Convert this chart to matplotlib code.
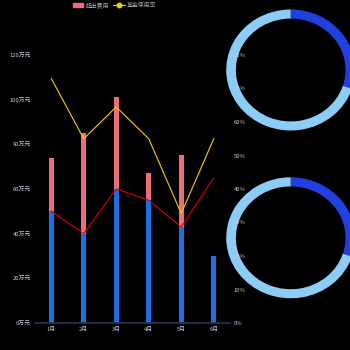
import matplotlib
matplotlib.use("Agg")
import matplotlib.pyplot as plt
from matplotlib.patches import Rectangle
from matplotlib.lines import Line2D

plt.rcParams['font.family'] = ['Noto Sans CJK SC', 'DejaVu Sans']

months = ["1月", "2月", "3月", "4月", "5月", "6月"]
used = [50, 40, 60, 55, 43, 30]          # 万元 (blue)
excess = [24, 45, 41, 12, 32, 0]          # 超出费用 (pink, stacked)
red_line = [50, 40, 60, 55, 43, 65]       # 万元
usage_rate = [73, 55, 64.5, 55, 32.7, 55] # 基金使用率 %
left_ticks = [0, 20, 40, 60, 80, 100, 120]
right_ticks = [0, 10, 20, 30, 40, 50, 60, 70, 80]
donut1 = [30, 70]
donut2 = [30, 70]

W = H = 350
fig = plt.figure(figsize=(3.5, 3.5), dpi=100, facecolor="black")

def fx(x): return x / W
def fy(y): return 1 - y / H

ax = fig.add_axes([fx(35), fy(323), fx(230) - fx(35), fy(55) - fy(323)])
ax.set_facecolor("black")
ax.set_zorder(1)
x = list(range(len(months)))
bw = 0.155
ax.bar(x, used, width=bw, color="#1a6fe6", zorder=2)
ax.bar(x, excess, width=bw, bottom=used, color="#f26b7c", zorder=2)
ax.plot(x, red_line, color="#e00000", lw=0.8, zorder=3)
ax.set_xlim(-0.5, 5.5)
ax.set_ylim(0, 120)
ax.set_yticks(left_ticks)
ax.set_yticklabels([f"{v}万元" for v in left_ticks])
ax.set_xticks(x)
ax.set_xticklabels(months)
lbl = "#c4c8da"
ax.tick_params(axis="y", length=0, pad=3, labelsize=4.2, labelcolor=lbl)
ax.tick_params(axis="x", length=0, pad=3, labelsize=4.2, labelcolor=lbl)
for s in ["top", "right", "left"]:
    ax.spines[s].set_visible(False)
ax.spines["bottom"].set_color("#2a3050")
ax.spines["bottom"].set_linewidth(1.2)

ax2 = ax.twinx()
ax2.set_zorder(3)
ax2.patch.set_visible(False)
ax2.plot(x, usage_rate, color="#f5d000", lw=0.8, zorder=3)
ax2.set_ylim(0, 80)
ax2.set_yticks(right_ticks)
ax2.set_yticklabels([f"{v}%" for v in right_ticks])
ax2.tick_params(axis="y", length=0, pad=2.5, labelsize=4.2, labelcolor=lbl)
for s in ["top", "right", "left", "bottom"]:
    ax2.spines[s].set_visible(False)

# legend
fig.patches.append(Rectangle((fx(73), fy(7.4)), fx(10), fy(2.6) - fy(7.4),
                             transform=fig.transFigure, color="#f26b7c"))
fig.text(fx(86), fy(5), "超出费用", fontsize=4.2, color="#aaaaaa", va="center")
fig.lines.append(Line2D([fx(113), fx(125)], [fy(5), fy(5)], transform=fig.transFigure,
                        color="#f5d000", lw=0.8))
fig.lines.append(Line2D([fx(119)], [fy(5)], transform=fig.transFigure, marker="o",
                        markersize=3.2, color="#f5d000", markeredgecolor="#f5d000"))
fig.text(fx(127), fy(5), "基金使用率", fontsize=4.2, color="#aaaaaa", va="center")

# donuts (slightly stretched horizontally, as in the reference)
RX, RY = 64.5, 60.5
cx = 290.7
for cy, vals in [(70, donut1), (237.8, donut2)]:
    dax = fig.add_axes([fx(cx - RX), fy(cy + RY), fx(2 * RX), fx(2 * RY)])
    dax.set_zorder(2)
    dax.set_facecolor("none")
    dax.pie(vals, colors=["#2040e0", "#8ccdf8"], startangle=90, counterclock=False,
            radius=1, wedgeprops=dict(width=0.15, edgecolor="none"))
    dax.set_xlim(-1, 1)
    dax.set_ylim(-1, 1)
    dax.set_aspect("auto")
    dax.axis("off")

fig.savefig("out.png", dpi=100, facecolor="black")
